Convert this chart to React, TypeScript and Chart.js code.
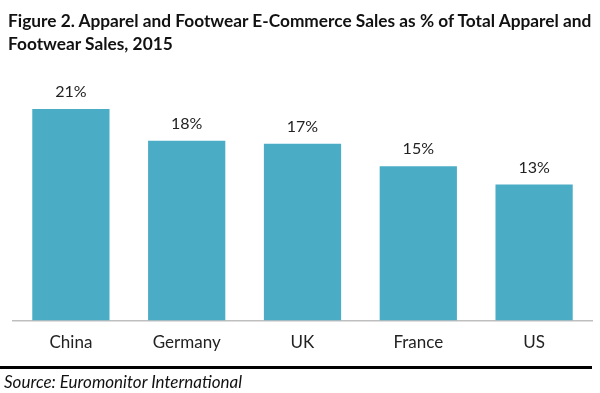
import React, { useEffect, useRef } from "react";
import { Chart, registerables } from "chart.js";

Chart.register(...registerables);

const categories = ["China", "Germany", "UK", "France", "US"];
const shareValues = [20.7, 17.6, 17.3, 15.1, 13.3];
const titleLines = [
  "Figure 2. Apparel and Footwear E-Commerce Sales as % of Total Apparel and",
  "Footwear Sales, 2015",
];
const sourceText = "Source: Euromonitor International";

const FONT = "Lato, 'Open Sans', sans-serif";

const valueLabels = {
  id: "valueLabels",
  afterDatasetsDraw(chart: any) {
    const { ctx } = chart;
    const meta = chart.getDatasetMeta(0);
    ctx.save();
    ctx.font = `16px ${FONT}`;
    ctx.fillStyle = "#222";
    ctx.textAlign = "center";
    ctx.textBaseline = "bottom";
    meta.data.forEach((bar: any, i: number) => {
      const v = chart.data.datasets[0].data[i] as number;
      ctx.fillText(Math.round(v) + "%", bar.x, bar.y - 9);
    });
    ctx.restore();
  },
};

export default function App() {
  const ref = useRef<HTMLCanvasElement>(null);
  useEffect(() => {
    if (!ref.current) return;
    const chart = new Chart(ref.current, {
      type: "bar",
      data: {
        labels: categories,
        datasets: [
          {
            data: shareValues,
            backgroundColor: "#4BACC6",
            barPercentage: 0.667,
            categoryPercentage: 1,
          },
        ],
      },
      options: {
        animation: false,
        responsive: false,
        maintainAspectRatio: false,
        layout: { padding: { top: 65, left: 13, right: 8, bottom: 28 } },
        plugins: { legend: { display: false }, tooltip: { enabled: false } },
        scales: {
          y: { display: false, min: 0, max: 25 },
          x: {
            grid: { display: false, drawTicks: false },
            border: { display: true, color: "#bfbfbf", width: 1.5 },
            ticks: {
              color: "#222",
              padding: 12,
              font: { family: FONT, size: 17 },
            },
          },
        },
      },
      plugins: [valueLabels],
    });
    return () => chart.destroy();
  }, []);

  return (
    <div style={{ position: "fixed", left: 0, top: 0, width: 600, height: 393, background: "#fff", overflow: "hidden" }}>
      <canvas ref={ref} width={600} height={393} style={{ position: "absolute", left: 0, top: 0, zIndex: 0 }} />
      <div
        style={{
          position: "absolute",
          left: 8,
          top: 9,
          width: 600,
          fontFamily: FONT,
          fontWeight: 700,
          fontSize: 17.3,
          lineHeight: "23px",
          color: "#111",
          whiteSpace: "nowrap",
          zIndex: 1,
        }}
      >
        {titleLines.map((t, i) => (
          <div key={i}>{t}</div>
        ))}
      </div>
      <div
        style={{
          position: "absolute",
          left: 0,
          top: 366,
          width: 592,
          height: 3,
          background: "#000",
          zIndex: 2,
        }}
      />
      <div
        style={{
          position: "absolute",
          left: 4,
          top: 372,
          fontFamily: FONT,
          fontStyle: "italic",
          fontSize: 17,
          lineHeight: "20px",
          color: "#111",
          whiteSpace: "nowrap",
          zIndex: 1,
        }}
      >
        {sourceText}
      </div>
    </div>
  );
}
